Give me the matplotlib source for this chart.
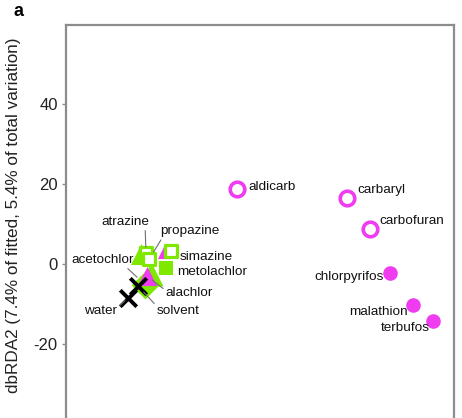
import matplotlib
matplotlib.use("Agg")
import matplotlib.pyplot as plt

plt.rcParams['font.family'] = ['Liberation Sans', 'DejaVu Sans']

MAGENTA = '#f03cf0'
GREEN = '#7fe800'

# insecticides (magenta circles), dbRDA1 / dbRDA2 scores
open_circ_names = ['aldicarb', 'carbaryl', 'carbofuran']
open_circ_x = [26.8, 54.2, 60.0]
open_circ_y = [18.8, 16.5, 8.8]

fill_circ_names = ['chlorpyrifos', 'malathion', 'terbufos']
fill_circ_x = [65.0, 70.8, 75.8]
fill_circ_y = [-2.2, -10.2, -14.2]

# herbicides (green)
sq_open_names = ['atrazine', 'propazine', 'simazine']
sq_open_x = [4.0, 4.8, 10.2]
sq_open_y = [2.8, 1.2, 3.2]

sq_fill_names = ['metolachlor']
sq_fill_x = [9.0]
sq_fill_y = [-1.0]

diam_names = ['acetochlor']
diam_x = [3.8]
diam_y = [-5.2]

green_tri_x = [2.8, 5.2]
green_tri_y = [2.5, -2.5]

mag_tri_names = ['alachlor']
mag_tri_x = [4.2]
mag_tri_y = [-3.0]
small_mag_tri_x = [8.5]
small_mag_tri_y = [3.0]

# controls
ctrl_names = ['water', 'solvent']
ctrl_x = [-0.5, 2.0]
ctrl_y = [-8.5, -5.5]

fig = plt.figure(figsize=(4.62, 4.18), dpi=100)
ax = fig.add_axes([66 / 462, -46 / 418, 388 / 462, 439 / 418])
ax.set_xlim(-16, 81)
ax.set_ylim(-50, 59.75)

ax.scatter(green_tri_x[1:], green_tri_y[1:], marker='^', s=300, color=GREEN, zorder=2, linewidths=0)
ax.scatter(diam_x, diam_y, marker='D', s=200, color=GREEN, zorder=2, linewidths=0)
ax.scatter(mag_tri_x, mag_tri_y, marker='^', s=190, color=MAGENTA, zorder=3, linewidths=0)
ax.scatter(green_tri_x[:1], green_tri_y[:1], marker='^', s=230, color=GREEN, zorder=3, linewidths=0)
ax.scatter(small_mag_tri_x, small_mag_tri_y, marker='^', s=90, color=MAGENTA, zorder=3, linewidths=0)
ax.scatter(sq_open_x, sq_open_y, marker='s', s=80, facecolor='white', edgecolor=GREEN,
           linewidths=2.3, zorder=4)
ax.scatter(sq_fill_x, sq_fill_y, marker='s', s=95, color=GREEN, zorder=3, linewidths=0)
ax.scatter(ctrl_x, ctrl_y, marker='x', s=140, color='black', linewidths=2.8, zorder=5)
ax.scatter(open_circ_x, open_circ_y, marker='o', s=110, facecolor='white', edgecolor=MAGENTA,
           linewidths=2.6, zorder=4)
ax.scatter(fill_circ_x, fill_circ_y, marker='o', s=110, color=MAGENTA, zorder=4, linewidths=0)

PT = 0.72  # px -> points at 100 dpi


def label(name, x, y, dx, dy, ha, relpos=None, shrink=0):
    kw = {}
    if relpos is not None:
        kw['arrowprops'] = dict(arrowstyle='-', color='#707070', lw=0.8,
                                relpos=relpos, shrinkA=0, shrinkB=shrink)
    ax.annotate(name, (x, y), xytext=(dx * PT, dy * PT), textcoords='offset points',
                ha=ha, va='center', fontsize=9.7, color='#111111', zorder=6, **kw)


plain = {
    'aldicarb': (11, 2, 'left'), 'carbaryl': (11, 8, 'left'), 'carbofuran': (9, 8, 'left'),
    'chlorpyrifos': (-6, -4, 'right'), 'malathion': (-5, -7, 'right'),
    'terbufos': (-3, -7, 'right'), 'simazine': (9, -6, 'left'), 'metolachlor': (11, -4, 'left'),
}
lined = {
    'atrazine': (-21, 31, 'center', (0.92, 0.0), 4),
    'propazine': (11, 28, 'left', (0.04, 0.0), 6),
    'acetochlor': (-11, 25, 'right', (0.85, 0.0), 8),
    'alachlor': (19, -17, 'left', (0.0, 0.7), 5),
    'solvent': (19, -25, 'left', (0.02, 0.8), 6),
    'water': (-11, -13, 'right', (1.0, 0.75), 3),
}

names = (open_circ_names + fill_circ_names + sq_open_names + sq_fill_names
         + diam_names + mag_tri_names + ctrl_names)
xs = open_circ_x + fill_circ_x + sq_open_x + sq_fill_x + diam_x + mag_tri_x + ctrl_x
ys = open_circ_y + fill_circ_y + sq_open_y + sq_fill_y + diam_y + mag_tri_y + ctrl_y
for n, x, y in zip(names, xs, ys):
    if n in plain:
        dx, dy, ha = plain[n]
        label(n, x, y, dx, dy, ha)
    else:
        dx, dy, ha, rp, sh = lined[n]
        label(n, x, y, dx, dy, ha, rp, sh)

for s in ax.spines.values():
    s.set_color('#8c8c8c')
    s.set_linewidth(1.6)
ax.set_yticks([-20, 0, 20, 40])
ax.set_yticklabels(['-20', '0', '20', '40'])
ax.set_xticks([])
ax.tick_params(axis='y', length=3, width=1, color='#8c8c8c', labelsize=12,
               labelcolor='#222222', pad=3)

fig.text(14 / 462, 1 - 215 / 418, 'dbRDA2 (7.4% of fitted, 5.4% of total variation)',
         rotation=90, ha='center', va='center', fontsize=12.3, color='#222222')
fig.text(14 / 462, 1 - 12 / 418, 'a', fontsize=13, fontweight='bold', ha='left', va='center')

fig.savefig('out.png', dpi=100)
